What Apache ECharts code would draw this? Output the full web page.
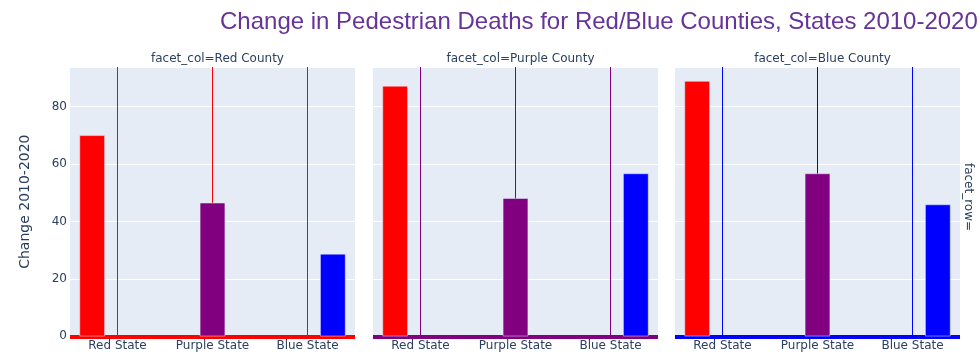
<!DOCTYPE html>
<html>
<head>
<meta charset="utf-8">
<script src="https://cdn.jsdelivr.net/npm/echarts@6/dist/echarts.min.js"></script>
<style>html,body{margin:0;padding:0;background:#fff}#c{width:980px;height:364px}</style>
</head>
<body>
<div id="c"></div>
<script>
const categories = ['Red State', 'Purple State', 'Blue State'];
const panels = ['Red County', 'Purple County', 'Blue County'];
const redCounty = [70.0, 46.5, 28.7];
const purpleCounty = [87.2, 48.1, 56.7];
const blueCounty = [88.9, 56.7, 45.9];
const yTicks = [0, 20, 40, 60, 80];

const panelValues = [redCounty, purpleCounty, blueCounty];
const panelColors = ['#ff0000', '#800080', '#0000ff'];
const stateColors = ['#ff0000', '#800080', '#0000ff'];
const txt = '#2a3f5f';
const font = 'Verdana, "DejaVu Sans", sans-serif';

const gridLeft = [70, 373, 675];
const gridW = 285;
const grids = gridLeft.map(l => ({left: l, width: gridW, top: 67, bottom: 27.7, backgroundColor: '#E5ECF6', show: true, borderWidth: 0}));

const xAxes = panels.map((p, i) => ({
  type: 'category', gridIndex: i, data: categories,
  axisTick: {show: false, interval: 0},
  axisLine: {show: true, lineStyle: {color: panelColors[i], width: 4, cap: 'butt'}},
  axisLabel: {color: txt, fontFamily: font, fontSize: 12, margin: 4, interval: 0, hideOverlap: false},
  splitLine: {show: true, interval: 0, alignWithLabel: true, lineStyle: {color: panelColors[i], width: 1}}
}));

const yAxes = panels.map((p, i) => ({
  type: 'value', gridIndex: i, min: 0, max: 93.8, interval: 20,
  axisLine: {show: false}, axisTick: {show: false},
  axisLabel: {show: i === 0, color: txt, fontFamily: font, fontSize: 12, margin: 3,
    formatter: v => yTicks.includes(v) ? String(v) : ''},
  splitLine: {show: true, lineStyle: {color: '#ffffff', width: 1}},
  name: i === 0 ? 'Change 2010-2020' : '',
  nameLocation: 'middle', nameGap: 38,
  nameTextStyle: {color: txt, fontFamily: font, fontSize: 14}
}));

const series = [];
panels.forEach((p, i) => {
  categories.forEach((c, j) => {
    series.push({
      type: 'bar', name: c, xAxisIndex: i, yAxisIndex: i,
      data: categories.map((cc, k) => k === j ? panelValues[i][k] : '-'),
      barGap: '0%', barCategoryGap: '20%',
      itemStyle: {color: stateColors[j], borderColor: '#E5ECF6', borderWidth: 0.5},
      z: 2
    });
  });
});

const titles = [{
  text: 'Change in Pedestrian Deaths for Red/Blue Counties, States 2010-2020',
  left: 215, top: 5,
  textStyle: {color: '#663399', fontFamily: 'Arial, "Liberation Sans", sans-serif', fontSize: 24, fontWeight: 'normal'}
}];
panels.forEach((p, i) => {
  titles.push({
    text: 'facet_col=' + p,
    left: gridLeft[i] + gridW / 2, top: 48, textAlign: 'center',
    textStyle: {color: txt, fontFamily: font, fontSize: 12, fontWeight: 'normal'}
  });
});

const chart = echarts.init(document.getElementById('c'), null, {renderer: 'canvas'});
chart.setOption({
  animation: false,
  backgroundColor: '#ffffff',
  title: titles,
  grid: grids,
  xAxis: xAxes,
  yAxis: yAxes,
  series: series,
  graphic: [{
    type: 'text', x: 968, y: 197, rotation: -Math.PI / 2,
    style: {text: 'facet_row=', fill: txt, font: '12px ' + font, textAlign: 'center', textVerticalAlign: 'middle'}
  }]
});
</script>
</body>
</html>
